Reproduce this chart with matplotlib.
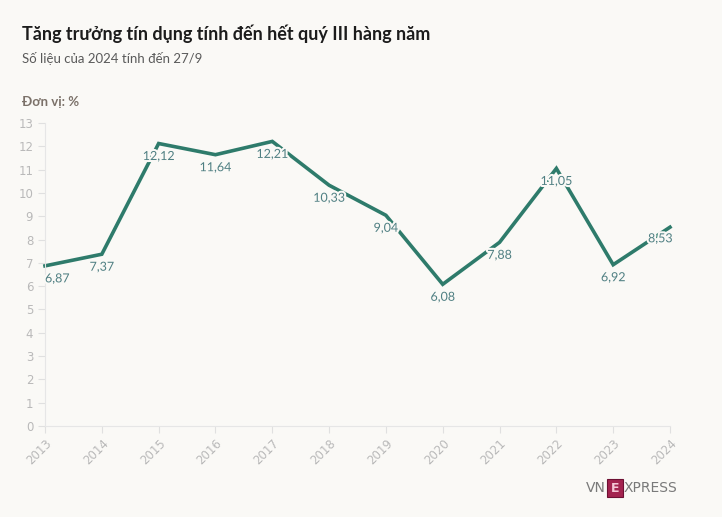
import matplotlib
matplotlib.use("Agg")
import matplotlib.pyplot as plt
import matplotlib.patheffects as pe

years = [2013, 2014, 2015, 2016, 2017, 2018, 2019, 2020, 2021, 2022, 2023, 2024]
values = [6.87, 7.37, 12.12, 11.64, 12.21, 10.33, 9.04, 6.08, 7.88, 11.05, 6.92, 8.53]
labels = ["6,87", "7,37", "12,12", "11,64", "12,21", "10,33", "9,04", "6,08", "7,88", "11,05", "6,92", "8,53"]

bg = "#faf9f6"
line_c = "#2e7b6b"
lab_c = "#4f7f82"
tick_c = "#b9b9b9"

fig = plt.figure(figsize=(7.22, 5.17), dpi=100, facecolor=bg)
ax = fig.add_axes([45/722, 91/517, 625/722, 303/517])
ax.set_facecolor(bg)
ax.plot(years, values, color=line_c, lw=2.6, solid_joinstyle="miter", clip_on=False, zorder=2)
ax.set_xlim(2013, 2024)
ax.set_ylim(0, 13)
ax.set_yticks(range(0, 14))
ax.set_xticks(years)
ax.set_xticklabels([str(y) for y in years], rotation=45, ha="right", rotation_mode="anchor")
for s in ["top", "right"]:
    ax.spines[s].set_visible(False)
for s in ["left", "bottom"]:
    ax.spines[s].set_color("#e6e6e6")
    ax.spines[s].set_linewidth(0.8)
ax.tick_params(axis="both", colors="#e0e0e0", labelcolor=tick_c, labelsize=8.5, length=5, width=0.8)
ax.tick_params(axis="x", pad=3)

for i, (x, y, t) in enumerate(zip(years, values, labels)):
    ha = "center"
    dx, dy = 0, -9
    if i == 0:
        ha = "left"; dx = 0
    elif i == len(years) - 1:
        dx = -7; dy = -8
    ax.annotate(t, (x, y), xytext=(dx, dy), textcoords="offset points",
                ha=ha, va="center", fontsize=9, color=lab_c, family="Lato",
                path_effects=[pe.withStroke(linewidth=3, foreground=bg)], zorder=3,
                annotation_clip=False)

fig.text(22/722, 1 - 34/517, "Tăng trưởng tín dụng tính đến hết quý III hàng năm",
         fontsize=13, fontweight="bold", color="#1c1c1c", family="Lato", va="center")
fig.text(22/722, 1 - 58/517, "Số liệu của 2024 tính đến 27/9",
         fontsize=9.5, color="#5a5a5a", family="Lato", va="center")
fig.text(22/722, 1 - 102/517, "Đơn vị: %", fontsize=9.5, fontweight="bold",
         color="#7b7169", family="Lato", va="center")

# logo
fig.text(606/722, 1 - 488/517, "VN", fontsize=10, color="#7a7a7a", family="DejaVu Sans", va="center", ha="right")
fig.patches.append(matplotlib.patches.Rectangle((607/722, 1 - 497/517), 16/722, 18/517,
                   transform=fig.transFigure, facecolor="#a3234f", edgecolor="#6d1033", lw=0.8))
fig.text(615/722, 1 - 488/517, "E", fontsize=9, color="#f4c6d6", family="DejaVu Sans",
         va="center", ha="center", fontweight="bold")
fig.text(624/722, 1 - 488/517, "XPRESS", fontsize=10, color="#7a7a7a", family="DejaVu Sans", va="center", ha="left")

fig.savefig("out.png", dpi=100, facecolor=bg)
